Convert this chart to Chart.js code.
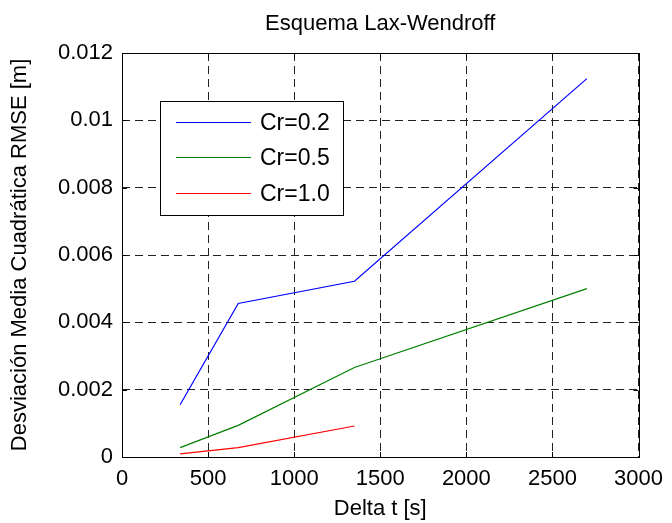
<!DOCTYPE html>
<html>
<head>
<meta charset="utf-8">
<title>Esquema Lax-Wendroff</title>
<script src="https://cdn.jsdelivr.net/npm/chart.js@4.4.1/dist/chart.umd.min.js"></script>
<style>
    html, body { margin: 0; padding: 0; background: #fff; }
    #wrap { width: 672px; height: 523px; }
</style>
</head>
<body>
<div id="wrap"><canvas id="rmseChart" width="672" height="523"></canvas></div>
<script>
// Delta t [s] values
const deltaT = [337.5, 675, 1350, 2700];

// RMSE [m] per Courant number
const rmseCr02 = [0.00155, 0.00456, 0.00522, 0.01124];
const rmseCr05 = [0.00028, 0.00094, 0.00266, 0.00500];
const rmseCr10 = [0.00009, 0.00028, 0.00092];

const seriesLabels = ['Cr=0.2', 'Cr=0.5', 'Cr=1.0'];
const seriesColors = ['#0000ff', '#008000', '#ff0000'];

const xTicks = [0, 500, 1000, 1500, 2000, 2500, 3000];
const xTickLabels = ['0', '500', '1000', '1500', '2000', '2500', '3000'];
const yTicks = [0, 0.002, 0.004, 0.006, 0.008, 0.01, 0.012];
const yTickLabels = ['0', '0.002', '0.004', '0.006', '0.008', '0.01', '0.012'];

const FONT = '"Liberation Sans", Arial, Helvetica, sans-serif';
const FS = 22;

function toPoints(xs, ys) {
    return ys.map((y, i) => ({ x: xs[i], y: y }));
}

// box around the axes + inward tick marks (matlab style)
const boxPlugin = {
    id: 'boxTicks',
    afterDraw(chart) {
        const ctx = chart.ctx;
        const a = chart.chartArea;
        const xs = chart.scales.x, ys = chart.scales.y;
        const tl = 5;
        ctx.save();
        ctx.strokeStyle = '#000';
        ctx.lineWidth = 1;
        ctx.beginPath();
        xTicks.forEach(v => {
            const px = Math.round(xs.getPixelForValue(v)) + 0.5;
            ctx.moveTo(px, a.bottom); ctx.lineTo(px, a.bottom - tl);
            ctx.moveTo(px, a.top); ctx.lineTo(px, a.top + tl);
        });
        yTicks.forEach(v => {
            const py = Math.round(ys.getPixelForValue(v)) + 0.5;
            ctx.moveTo(a.left, py); ctx.lineTo(a.left + tl, py);
            ctx.moveTo(a.right, py); ctx.lineTo(a.right - tl, py);
        });
        ctx.stroke();
        ctx.strokeRect(Math.round(a.left) + 0.5, Math.round(a.top) + 0.5,
            Math.round(a.right - a.left), Math.round(a.bottom - a.top));
        ctx.restore();
    }
};

// legend drawn inside the plot, upper left
const legendBox = {
    id: 'legendBox',
    afterDraw(chart) {
        const ctx = chart.ctx;
        const bx = 160.5, by = 101.5, bw = 183, bh = 114;
        ctx.save();
        ctx.fillStyle = '#fff';
        ctx.fillRect(bx, by, bw, bh);
        ctx.strokeStyle = '#000';
        ctx.lineWidth = 1;
        ctx.strokeRect(bx, by, bw, bh);
        ctx.font = (FS + 1) + 'px ' + FONT;
        ctx.textBaseline = 'middle';
        ctx.textAlign = 'left';
        seriesLabels.forEach((label, i) => {
            const y = Math.round(121.5 + i * 35.7) + 0.5;
            ctx.strokeStyle = seriesColors[i];
            ctx.lineWidth = 1.2;
            ctx.beginPath();
            ctx.moveTo(176, y);
            ctx.lineTo(251, y);
            ctx.stroke();
            ctx.fillStyle = '#000';
            ctx.fillText(label, 260, y + 1);
        });
        ctx.restore();
    }
};

Chart.defaults.color = '#000';
Chart.defaults.font.family = FONT;
Chart.defaults.font.size = FS;

const ctx = document.getElementById('rmseChart').getContext('2d');
const rmseChart = new Chart(ctx, {
    type: 'line',
    data: {
        datasets: [
            { label: seriesLabels[0], data: toPoints(deltaT, rmseCr02), borderColor: seriesColors[0] },
            { label: seriesLabels[1], data: toPoints(deltaT, rmseCr05), borderColor: seriesColors[1] },
            { label: seriesLabels[2], data: toPoints(deltaT, rmseCr10), borderColor: seriesColors[2] }
        ].map(d => Object.assign(d, { borderWidth: 1.2, pointRadius: 0, fill: false, tension: 0 }))
    },
    options: {
        responsive: false,
        animation: false,
        layout: { padding: { left: 0, right: 28, top: 0, bottom: 0 } },
        plugins: {
            legend: { display: false },
            tooltip: { enabled: false },
            title: {
                display: true,
                fullSize: false,
                text: 'Esquema Lax-Wendroff',
                color: '#000',
                font: { size: FS, weight: 'normal' },
                padding: { top: 11, bottom: 15.6 }
            }
        },
        scales: {
            x: {
                type: 'linear',
                min: 0,
                max: 3000,
                afterBuildTicks: s => { s.ticks = xTicks.map(v => ({ value: v })); },
                afterFit: s => { s.height = 66; },
                ticks: {
                    padding: 9,
                    maxRotation: 0,
                    autoSkip: false,
                    callback: (v, i) => xTickLabels[i]
                },
                grid: { color: '#222', lineWidth: 1, drawTicks: false },
                border: { display: false, dash: [8, 5] },
                title: {
                    display: true,
                    text: 'Delta t [s]',
                    font: { size: FS },
                    padding: { top: 0, bottom: 1 }
                }
            },
            y: {
                type: 'linear',
                min: 0,
                max: 0.012,
                afterBuildTicks: s => { s.ticks = yTicks.map(v => ({ value: v })); },
                afterFit: s => { s.width = 122; },
                ticks: {
                    padding: 9,
                    autoSkip: false,
                    callback: (v, i) => yTickLabels[i]
                },
                grid: { color: '#222', lineWidth: 1, drawTicks: false },
                border: { display: false, dash: [8, 5] },
                title: {
                    display: true,
                    text: 'Desviación Media Cuadrática RMSE [m]',
                    font: { size: FS },
                    padding: { top: 7, bottom: 0 }
                }
            }
        }
    },
    plugins: [boxPlugin, legendBox]
});
</script>
</body>
</html>
